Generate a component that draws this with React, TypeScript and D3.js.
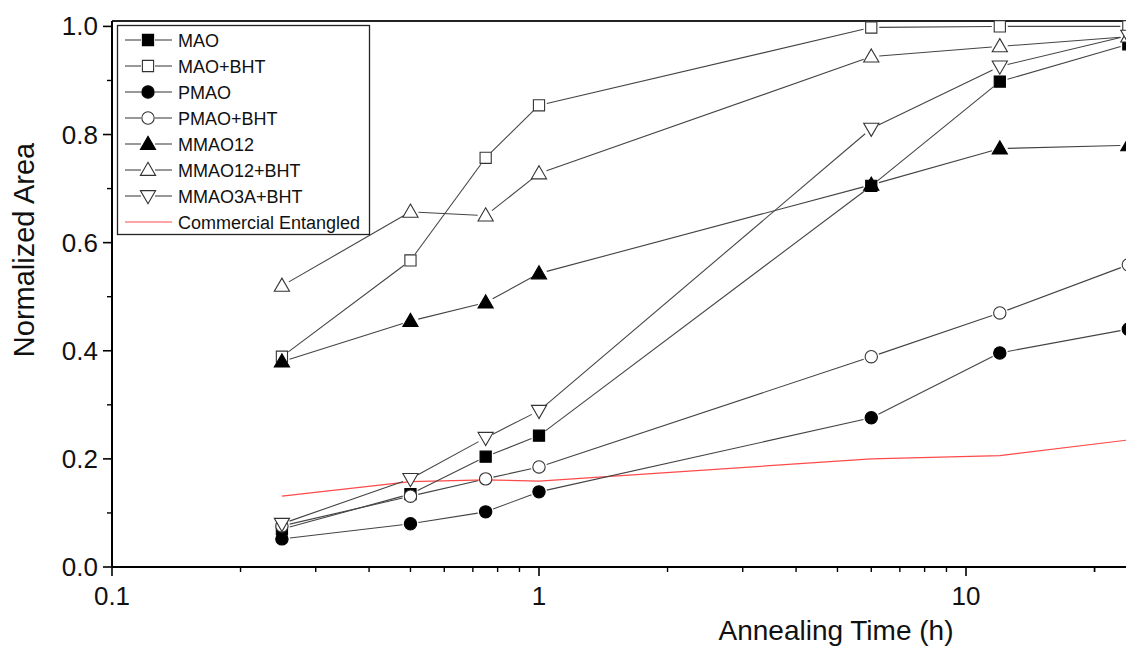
import { useEffect, useRef } from 'react';
import * as d3 from 'd3';

const times = [0.25, 0.5, 0.75, 1, 6, 12, 24];

const mao = [0.07, 0.135, 0.204, 0.243, 0.705, 0.898, 0.967];
const maoBht = [0.389, 0.567, 0.757, 0.854, 0.998, 1.0, 1.0];
const pmao = [0.052, 0.08, 0.102, 0.139, 0.276, 0.396, 0.44];
const pmaoBht = [0.076, 0.131, 0.163, 0.185, 0.389, 0.47, 0.559];
const mmao12 = [0.38, 0.455, 0.489, 0.543, 0.707, 0.774, 0.78];
const mmao12Bht = [0.52, 0.657, 0.65, 0.728, 0.944, 0.963, 0.981];
const mmao3aBht = [0.08, 0.163, 0.239, 0.289, 0.811, 0.926, 0.983];
const commercial = [0.131, 0.158, 0.161, 0.159, 0.2, 0.206, 0.235];

const seriesNames = ['MAO', 'MAO+BHT', 'PMAO', 'PMAO+BHT', 'MMAO12', 'MMAO12+BHT', 'MMAO3A+BHT'];
const seriesValues = [mao, maoBht, pmao, pmaoBht, mmao12, mmao12Bht, mmao3aBht];
const seriesShapes = ['square', 'square', 'circle', 'circle', 'up', 'up', 'down'];
const seriesFilled = [true, false, true, false, true, false, false];

const xMajor = [0.1, 1, 10];
const yMajor = [0, 0.2, 0.4, 0.6, 0.8, 1.0];
const yMinor = [0.1, 0.3, 0.5, 0.7, 0.9];

const FONT = "'Liberation Sans', Arial, sans-serif";

export default function App() {
  const svgRef = useRef<SVGSVGElement>(null);

  useEffect(() => {
    if (!svgRef.current) return;
    const width = 1126;
    const height = 648;

    d3.select(svgRef.current).selectAll('*').remove();
    const svg = d3.select(svgRef.current).attr('width', width).attr('height', height);

    const x = d3.scaleLog().domain([0.1, 24]).range([112, 112 + 427 * Math.log10(240)]);
    const y = d3.scaleLinear().domain([0, 1.01]).range([567, 21]);
    const [x0] = x.range();
    const [y0, y1] = y.range();

    const xMinor: number[] = [];
    [0.1, 1, 10].forEach((dec) => {
      for (let k = 2; k <= 9; k++) {
        const v = dec * k;
        if (v <= 30) xMinor.push(v);
      }
    });
    xMinor.push(20);

    // symbol path generator
    const symbolPath = (shape: string) => {
      if (shape === 'square') return d3.symbol().type(d3.symbolSquare).size(125)();
      if (shape === 'circle') return d3.symbol().type(d3.symbolCircle).size(120)();
      return d3.symbol().type(d3.symbolTriangle).size(100)();
    };
    const drawMarker = (g: any, shape: string, filled: boolean, cx: number, cy: number) => {
      g.append('path')
        .attr('d', symbolPath(shape))
        .attr('transform', `translate(${cx},${cy + (shape === 'up' ? 1 : shape === 'down' ? -1 : 0)})${shape === 'down' ? ' rotate(180)' : ''}`)
        .attr('fill', filled ? '#000' : '#fff')
        .attr('stroke', filled ? '#000' : '#333')
        .attr('stroke-width', 1.1);
    };

    // frame lines (top)
    svg.append('line')
      .attr('x1', x0).attr('x2', width + 5)
      .attr('y1', y1).attr('y2', y1)
      .attr('stroke', '#222').attr('stroke-width', 2);

    // Commercial reference line
    const line = d3
      .line<number>()
      .x((_, i) => x(times[i]))
      .y((d) => y(d));
    svg.append('path')
      .attr('d', line(commercial))
      .attr('fill', 'none')
      .attr('stroke', '#ff4a4a')
      .attr('stroke-width', 1.2);

    // Series connecting segments with gaps at symbols
    const gap = 8;
    seriesValues.forEach((vals) => {
      for (let i = 0; i < vals.length - 1; i++) {
        const ax = x(times[i]);
        const ay = y(vals[i]);
        const bx = x(times[i + 1]);
        const by = y(vals[i + 1]);
        const len = Math.hypot(bx - ax, by - ay);
        if (len <= gap * 2) continue;
        const ux = (bx - ax) / len;
        const uy = (by - ay) / len;
        svg.append('line')
          .attr('x1', ax + ux * gap).attr('y1', ay + uy * gap)
          .attr('x2', bx - ux * gap).attr('y2', by - uy * gap)
          .attr('stroke', '#444')
          .attr('stroke-width', 1.1);
      }
    });

    // Markers
    seriesValues.forEach((vals, s) => {
      const g = svg.append('g');
      vals.forEach((v, i) => drawMarker(g, seriesShapes[s], seriesFilled[s], x(times[i]), y(v)));
    });

    // Axes
    const axis = svg.append('g').attr('stroke', '#000');
    axis.append('line').attr('x1', x0).attr('x2', width + 5).attr('y1', y0).attr('y2', y0).attr('stroke-width', 2);
    axis.append('line').attr('x1', x0).attr('x2', x0).attr('y1', y0).attr('y2', y1).attr('stroke-width', 2);

    axis.selectAll('.ymaj').data(yMajor).enter().append('line')
      .attr('x1', x0 - 9).attr('x2', x0).attr('y1', (d) => y(d)).attr('y2', (d) => y(d)).attr('stroke-width', 1.6);
    axis.selectAll('.ymin').data(yMinor).enter().append('line')
      .attr('x1', x0 - 5).attr('x2', x0).attr('y1', (d) => y(d)).attr('y2', (d) => y(d)).attr('stroke-width', 1.4);
    axis.selectAll('.xmaj').data(xMajor).enter().append('line')
      .attr('x1', (d) => x(d)).attr('x2', (d) => x(d)).attr('y1', y0).attr('y2', y0 + 9).attr('stroke-width', 1.6);
    axis.selectAll('.xmin').data(xMinor).enter().append('line')
      .attr('x1', (d) => x(d)).attr('x2', (d) => x(d)).attr('y1', y0).attr('y2', y0 + 5).attr('stroke-width', 1.4);

    svg.selectAll('.ylab').data(yMajor).enter().append('text')
      .attr('x', x0 - 14).attr('y', (d) => y(d) + 9)
      .attr('text-anchor', 'end')
      .attr('font-family', FONT).attr('font-size', 26).attr('fill', '#111')
      .text((d) => d3.format('.1f')(d));
    svg.selectAll('.xlab').data(xMajor).enter().append('text')
      .attr('x', (d) => x(d)).attr('y', y0 + 38)
      .attr('text-anchor', 'middle')
      .attr('font-family', FONT).attr('font-size', 26).attr('fill', '#111')
      .text((d) => String(d));

    svg.append('text')
      .attr('transform', `translate(34,250) rotate(-90)`)
      .attr('text-anchor', 'middle')
      .attr('font-family', FONT).attr('font-size', 29).attr('fill', '#111')
      .text('Normalized Area');
    svg.append('text')
      .attr('x', 836).attr('y', 640)
      .attr('text-anchor', 'middle')
      .attr('font-family', FONT).attr('font-size', 28).attr('fill', '#111')
      .text('Annealing Time (h)');

    // Legend
    const lg = svg.append('g');
    lg.append('rect')
      .attr('x', 117.5).attr('y', 25.5).attr('width', 252).attr('height', 209)
      .attr('fill', '#fff').attr('stroke', '#222').attr('stroke-width', 1.3);
    const entries = [...seriesNames, 'Commercial Entangled'];
    entries.forEach((name, i) => {
      const cy = 40 + i * 26;
      const isRed = i === seriesNames.length;
      if (isRed) {
        lg.append('line').attr('x1', 125).attr('x2', 172).attr('y1', cy).attr('y2', cy)
          .attr('stroke', '#ff4a4a').attr('stroke-width', 1.2);
      } else {
        lg.append('line').attr('x1', 125).attr('x2', 141).attr('y1', cy).attr('y2', cy)
          .attr('stroke', '#444').attr('stroke-width', 1.1);
        lg.append('line').attr('x1', 155).attr('x2', 172).attr('y1', cy).attr('y2', cy)
          .attr('stroke', '#444').attr('stroke-width', 1.1);
        drawMarker(lg, seriesShapes[i], seriesFilled[i], 148, cy);
      }
      lg.append('text')
        .attr('x', 178).attr('y', cy + 6.5)
        .attr('font-family', FONT).attr('font-size', 18).attr('fill', '#111')
        .text(name);
    });
  }, []);

  return (
    <div style={{ position: 'absolute', left: 0, top: 0, width: 1126, height: 648, overflow: 'hidden', background: '#fff' }}>
      <svg ref={svgRef} style={{ display: 'block' }}></svg>
    </div>
  );
}
